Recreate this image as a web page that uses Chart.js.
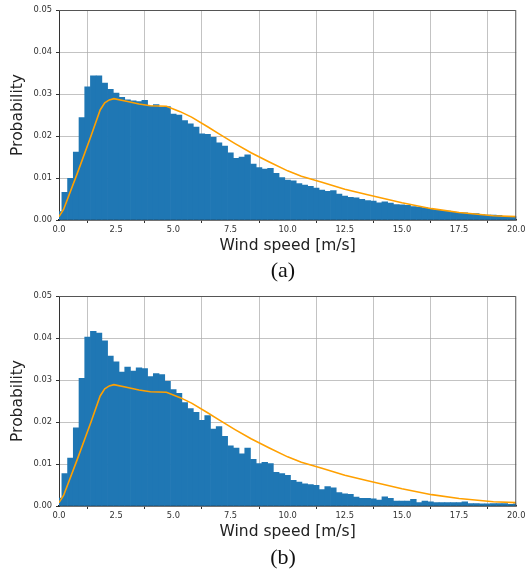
<!DOCTYPE html>
<html lang="en">

<head>
  <meta charset="UTF-8">
  <meta name="viewport" content="width=device-width, initial-scale=1.0">
  <script src="https://cdn.jsdelivr.net/npm/chart.js"></script>
  <title>Wind speed distribution</title>
  <style>
    body { margin: 0; background: #fff; }
    .panel { position: absolute; left: 0; }
    .caption {
      position: absolute; left: 0; width: 566px; text-align: center;
      font-family: "Liberation Serif", "Times New Roman", serif;
      font-size: 22px; line-height: 22px; color: #111;
    }
  </style>
</head>

<body>
  <canvas id="chartA" class="panel" width="527" height="262" style="top:0px"></canvas>
  <div class="caption" style="top:259px">(a)</div>
  <canvas id="chartB" class="panel" width="527" height="262" style="top:286px"></canvas>
  <div class="caption" style="top:546px">(b)</div>

  <script>
    // histogram bin centres (m/s)
    const binCenters = [
      0, 0.25, 0.5, 0.75, 1, 1.25, 1.5, 1.75, 2, 2.25, 2.5, 2.75, 3, 3.25, 3.5, 3.75,
      4, 4.25, 4.5, 4.75, 5, 5.25, 5.5, 5.75, 6, 6.25, 6.5, 6.75, 7, 7.25, 7.5, 7.75,
      8, 8.25, 8.5, 8.75, 9, 9.25, 9.5, 9.75, 10, 10.25, 10.5, 10.75, 11, 11.25, 11.5, 11.75,
      12, 12.25, 12.5, 12.75, 13, 13.25, 13.5, 13.75, 14, 14.25, 14.5, 14.75, 15, 15.25, 15.5, 15.75,
      16, 16.25, 16.5, 16.75, 17, 17.25, 17.5, 17.75, 18, 18.25, 18.5, 18.75, 19, 19.25, 19.5, 19.75, 20
    ];

    // (a) histogram
    const probA = [
      0.0020, 0.0066, 0.0099, 0.0162, 0.0244, 0.0317, 0.0343, 0.0343, 0.0326, 0.0311, 0.0302, 0.0292, 0.0286, 0.0284, 0.0282, 0.0285,
      0.0271, 0.0275, 0.0269, 0.0270, 0.0252, 0.0250, 0.0237, 0.0229, 0.0221, 0.0205, 0.0204, 0.0197, 0.0184, 0.0176, 0.0160, 0.0147,
      0.0150, 0.0155, 0.0133, 0.0125, 0.0121, 0.0123, 0.0111, 0.0101, 0.0095, 0.0093, 0.0087, 0.0083, 0.0080, 0.0076, 0.0071, 0.0068,
      0.0070, 0.0062, 0.0057, 0.0054, 0.0053, 0.0049, 0.0046, 0.0045, 0.0041, 0.0043, 0.0040, 0.0037, 0.0036, 0.0035, 0.0032, 0.0031,
      0.0029, 0.0027, 0.0025, 0.0023, 0.0021, 0.0019, 0.0017, 0.0017, 0.0015, 0.0015, 0.0013, 0.0012, 0.0012, 0.0011, 0.0009, 0.0009, 0.0008
    ];

    // (b) histogram
    const probB = [
      0.0019, 0.0077, 0.0114, 0.0186, 0.0304, 0.0402, 0.0416, 0.0412, 0.0393, 0.0357, 0.0343, 0.0319, 0.0331, 0.0321, 0.0329, 0.0327,
      0.0308, 0.0315, 0.0313, 0.0297, 0.0277, 0.0268, 0.0246, 0.0232, 0.0223, 0.0204, 0.0215, 0.0183, 0.0189, 0.0166, 0.0143, 0.0138,
      0.0124, 0.0138, 0.0111, 0.0101, 0.0104, 0.0101, 0.0080, 0.0077, 0.0073, 0.0061, 0.0057, 0.0053, 0.0051, 0.0049, 0.0039, 0.0046,
      0.0043, 0.0032, 0.0029, 0.0028, 0.0021, 0.0018, 0.0018, 0.0017, 0.0014, 0.0022, 0.0018, 0.0012, 0.0012, 0.0012, 0.0016, 0.0008,
      0.0012, 0.0010, 0.0008, 0.0008, 0.0008, 0.0008, 0.0008, 0.0010, 0.0006, 0.0006, 0.0005, 0.0005, 0.0006, 0.0006, 0.0006, 0.0004, 0.0005
    ];

    // fitted distribution (orange curve), same in both panels
    const curveX = [0, 0.2, 0.8, 1.4, 1.8, 2.0, 2.2, 2.4, 3.0, 3.5, 4.0, 4.7, 5.3, 5.8, 6.5, 7.0, 7.7, 8.4, 9.2, 10.0, 10.6, 11.5, 12.5, 13.5, 15.0, 16.3, 17.5, 19.0, 20.0];
    const curveY = [0.0008, 0.0025, 0.0111, 0.0200, 0.0262, 0.0279, 0.0286, 0.0289, 0.0282, 0.0276, 0.0272, 0.0271, 0.0258, 0.0245, 0.0222, 0.0205, 0.0182, 0.0160, 0.0138, 0.0117, 0.0104, 0.0090, 0.0073, 0.0060, 0.0041, 0.0027, 0.0018, 0.0010, 0.0008];

    const xTicks = [0, 2.5, 5, 7.5, 10, 12.5, 15, 17.5, 20];
    const yTicks = [0, 0.01, 0.02, 0.03, 0.04, 0.05];

    Chart.defaults.font.family = "'DejaVu Sans', sans-serif";
    Chart.defaults.color = '#333';

    // top and right spines
    const framePlugin = {
      id: 'frame',
      afterDraw(chart) {
        const { ctx, chartArea: a } = chart;
        ctx.save();
        ctx.strokeStyle = '#555';
        ctx.lineWidth = 1;
        ctx.beginPath();
        ctx.moveTo(a.left, a.top + 0.5);
        ctx.lineTo(a.right - 0.5, a.top + 0.5);
        ctx.lineTo(a.right - 0.5, a.bottom);
        ctx.stroke();
        ctx.restore();
      }
    };

    const makePanel = (id, values) => {
      const data = {
        datasets: [{
          type: 'line',
          data: curveX.map((x, i) => ({ x: x, y: curveY[i] })),
          borderColor: '#ffa000',
          borderWidth: 1.6,
          pointRadius: 0,
          tension: 0,
          order: 0
        }, {
          type: 'bar',
          data: binCenters.map((x, i) => ({ x: x, y: values[i] })),
          backgroundColor: '#1f77b4',
          borderWidth: 0,
          barPercentage: 1,
          categoryPercentage: 1,
          order: 1
        }]
      };

      const config = {
        type: 'bar',
        data: data,
        plugins: [framePlugin],
        options: {
          responsive: false,
          animation: false,
          devicePixelRatio: 1,
          layout: { padding: { top: 10, right: 10, left: 0, bottom: 0 } },
          plugins: { legend: { display: false }, tooltip: { enabled: false } },
          scales: {
            x: {
              type: 'linear',
              min: 0,
              max: 20,
              offset: false,
              z: 1,
              afterBuildTicks: (scale) => { scale.ticks = xTicks.map(v => ({ value: v })); },
              afterFit: (scale) => { scale.height = 42; },
              ticks: {
                font: { size: 8.3 },
                padding: 1.5,
                maxRotation: 0,
                callback: (v) => Number(v).toFixed(1)
              },
              grid: { color: 'rgba(170,170,170,0.7)', lineWidth: 1, tickLength: 3, tickColor: '#333' },
              border: { color: '#222', width: 1.5 },
              title: {
                display: true,
                text: 'Wind speed [m/s]',
                color: '#222',
                font: { size: 15.5 },
                padding: { top: 0, bottom: 7 }
              }
            },
            y: {
              min: 0,
              max: 0.05,
              z: 1,
              afterBuildTicks: (scale) => { scale.ticks = yTicks.map(v => ({ value: v })); },
              afterFit: (scale) => { scale.width = 59; },
              ticks: {
                font: { size: 8.3 },
                padding: 4,
                callback: (v) => Number(v).toFixed(2)
              },
              grid: { color: 'rgba(170,170,170,0.7)', lineWidth: 1, tickLength: 3, tickColor: '#333' },
              border: { color: '#333', width: 1 },
              title: {
                display: true,
                text: 'Probability',
                color: '#222',
                font: { size: 15.5 },
                padding: { top: 9, bottom: 0 }
              }
            }
          }
        }
      };

      return new Chart(document.getElementById(id), config);
    };

    makePanel('chartA', probA);
    makePanel('chartB', probB);
  </script>
</body>

</html>
